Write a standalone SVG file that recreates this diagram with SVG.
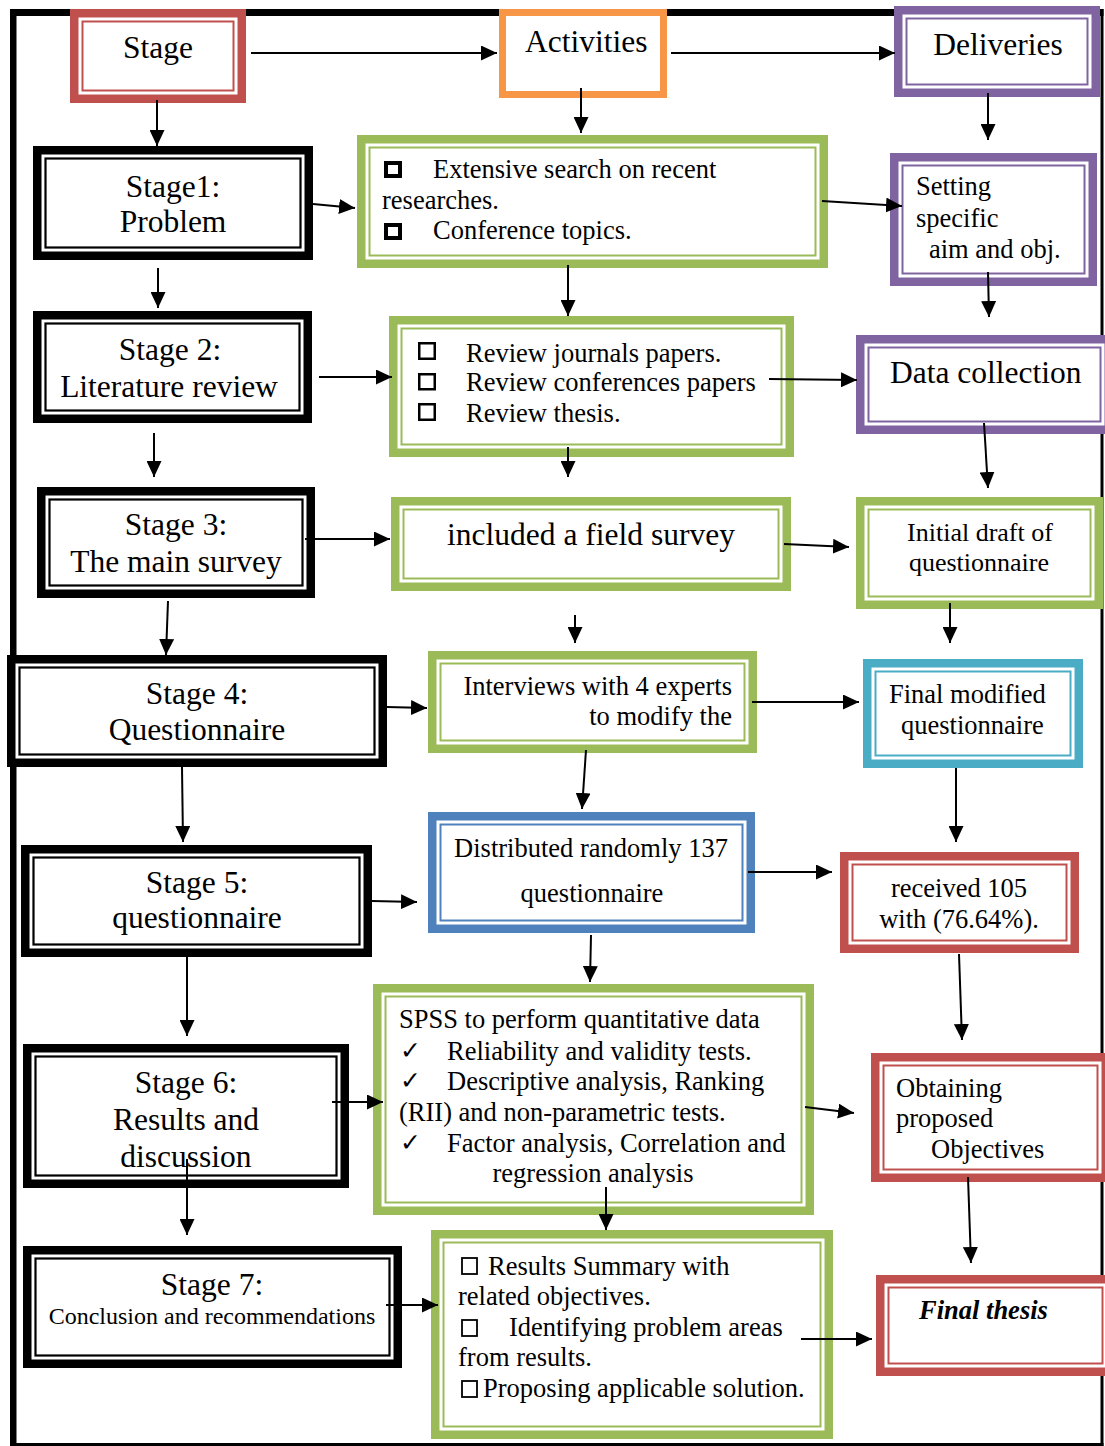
<svg xmlns="http://www.w3.org/2000/svg" width="1105" height="1446" viewBox="0 0 1105 1446">
<style>
text{font-family:"Liberation Serif","Times New Roman",serif;fill:#000}
.s{font-size:31.5px}
.m{font-size:26.5px}
.mid{text-anchor:middle}
.end{text-anchor:end}
.ck{font-family:"DejaVu Sans",sans-serif;font-size:25px}
.bk{fill:#fff;stroke:#000;stroke-width:8.5}
.lk{fill:none;stroke:#000;stroke-width:2.2}
.br{fill:#fff;stroke:#C0504D;stroke-width:8.5}
.lr{fill:none;stroke:#C0504D;stroke-width:2}
.bp{fill:#fff;stroke:#8064A2;stroke-width:8.5}
.lp{fill:none;stroke:#8064A2;stroke-width:2}
.bg{fill:#fff;stroke:#9BBB59;stroke-width:8.5}
.lg{fill:none;stroke:#9BBB59;stroke-width:2}
.bc{fill:#fff;stroke:#4BACC6;stroke-width:8.5}
.lc{fill:none;stroke:#4BACC6;stroke-width:2}
.bb{fill:#fff;stroke:#4F81BD;stroke-width:8.5}
.lb{fill:none;stroke:#4F81BD;stroke-width:2}
.sq{fill:none;stroke:#000}
.cn line{stroke:#000;stroke-width:2;marker-end:url(#ah)}
</style>
<defs>
<marker id="ah" viewBox="0 0 16 15" refX="16" refY="7.5" markerWidth="16" markerHeight="15" markerUnits="userSpaceOnUse" orient="auto">
<path d="M0,0 L16,7.5 L0,15 z" fill="#000"/>
</marker>
</defs>
<rect width="1105" height="1446" fill="#fff"/>
<g id="frame" fill="#000">
<rect x="10" y="9" width="1093.5" height="7"/>
<rect x="10" y="9" width="6.5" height="1437"/>
<rect x="1100.5" y="9" width="3" height="1437"/>
<rect x="10" y="1443" width="1093.5" height="3"/>
</g>
<g id="stage-head"><rect class="br" x="74.25" y="13.25" width="167.5" height="85.5"/><rect class="lr" x="82.5" y="21.5" width="151" height="69"/><text class="s mid" x="158" y="58">Stage</text></g>
<g id="activities-head"><rect x="502.5" y="12.5" width="161" height="82" fill="#fff" stroke="#F79646" stroke-width="7"/><text class="s" x="525" y="52">Activities</text></g>
<g id="deliveries-head"><rect class="bp" x="898.25" y="10.25" width="197.5" height="82.5"/><rect class="lp" x="906.5" y="18.5" width="181" height="66"/><text class="s mid" x="998" y="55">Deliveries</text></g>

<g id="stage1"><rect class="bk" x="37.25" y="150.25" width="271.5" height="105.5"/><rect class="lk" x="45.5" y="158.5" width="255" height="89"/><text class="s mid" x="173" y="197">Stage1:</text><text class="s mid" x="173" y="232">Problem</text></g>
<g id="act1"><rect class="bg" x="361.25" y="139.25" width="462.5" height="124.5"/><rect class="lg" x="369.5" y="147.5" width="446" height="108"/>
<rect class="sq" stroke-width="4" x="386" y="163" width="14" height="13"/><rect class="sq" stroke-width="4" x="386" y="225" width="14" height="13"/>
<text class="m" x="433" y="178">Extensive search on recent</text><text class="m" x="382" y="209">researches.</text><text class="m" x="433" y="239">Conference topics.</text></g>
<g id="del1"><rect class="bp" x="894.25" y="157.25" width="198.5" height="124.5"/><rect class="lp" x="902.5" y="165.5" width="182" height="108"/><text class="m" x="916" y="195">Setting</text><text class="m" x="916" y="227">specific</text><text class="m" x="929" y="258">aim and obj.</text></g>

<g id="stage2"><rect class="bk" x="37.25" y="315.25" width="270.5" height="103.5"/><rect class="lk" x="45.5" y="323.5" width="254" height="87"/><text class="s mid" x="170" y="360">Stage 2:</text><text class="s mid" x="169" y="397">Literature review</text></g>
<g id="act2"><rect class="bg" x="393.25" y="320.25" width="396.5" height="132.5"/><rect class="lg" x="401.5" y="328.5" width="380" height="116"/>
<rect class="sq" stroke-width="2.5" x="419.25" y="343.25" width="15.5" height="15.5"/><rect class="sq" stroke-width="2.5" x="419.25" y="374.25" width="15.5" height="15"/><rect class="sq" stroke-width="2.5" x="419.25" y="404.25" width="15.5" height="15.5"/>
<text class="m" x="466" y="362">Review journals papers.</text><text class="m" x="466" y="391">Review conferences papers</text><text class="m" x="466" y="422">Review thesis.</text></g>
<g id="del2"><rect class="bp" x="860.25" y="339.25" width="248.5" height="90.5"/><rect class="lp" x="868.5" y="347.5" width="232" height="74"/><text class="s" x="890" y="383">Data collection</text></g>

<g id="stage3"><rect class="bk" x="41.25" y="491.25" width="269.5" height="102.5"/><rect class="lk" x="49.5" y="499.5" width="253" height="86"/><text class="s mid" x="176" y="535">Stage 3:</text><text class="s mid" x="176" y="572">The main survey</text></g>
<g id="act3"><rect class="bg" x="395.25" y="501.25" width="391.5" height="85.5"/><rect class="lg" x="403.5" y="509.5" width="375" height="69"/><text class="s mid" x="591" y="545">included a field survey</text></g>
<g id="del3"><rect class="bg" x="860.25" y="501.25" width="238.5" height="103.5"/><rect class="lg" x="868.5" y="509.5" width="222" height="87"/><text class="mid" font-size="26" x="980" y="541">Initial draft of</text><text class="mid" font-size="26" x="979" y="571">questionnaire</text></g>

<g id="stage4"><rect class="bk" x="11.25" y="659.25" width="371.5" height="103.5"/><rect class="lk" x="19.5" y="667.5" width="355" height="87"/><text class="s mid" x="197" y="704">Stage 4:</text><text class="s mid" x="197" y="740">Questionnaire</text></g>
<g id="act4"><rect class="bg" x="432.25" y="655.25" width="320.5" height="93.5"/><rect class="lg" x="440.5" y="663.5" width="304" height="77"/><text class="m end" x="732" y="695">Interviews with 4 experts</text><text class="m end" x="732" y="725">to modify the</text></g>
<g id="del4"><rect class="bc" x="867.25" y="663.25" width="211.5" height="100.5"/><rect class="lc" x="875.5" y="671.5" width="195" height="84"/><text class="m" x="889" y="703">Final modified</text><text class="m" x="901" y="734">questionnaire</text></g>

<g id="stage5"><rect class="bk" x="25.25" y="849.25" width="342.5" height="103.5"/><rect class="lk" x="33.5" y="857.5" width="326" height="87"/><text class="s mid" x="197" y="893">Stage 5:</text><text class="s mid" x="197" y="928">questionnaire</text></g>
<g id="act5"><rect class="bb" x="432.25" y="816.25" width="318.5" height="112.5"/><rect class="lb" x="440.5" y="824.5" width="302" height="96"/><text class="m mid" x="591" y="857">Distributed randomly 137</text><text class="m mid" x="592" y="902">questionnaire</text></g>
<g id="del5"><rect class="br" x="844.25" y="856.25" width="230.5" height="92.5"/><rect class="lr" x="852.5" y="864.5" width="214" height="76"/><text class="m mid" x="959" y="897">received 105</text><text class="m mid" x="959" y="928">with (76.64%).</text></g>

<g id="stage6"><rect class="bk" x="27.25" y="1048.25" width="317.5" height="135.5"/><rect class="lk" x="35.5" y="1056.5" width="301" height="119"/><text class="s mid" x="186" y="1093">Stage 6:</text><text class="s mid" x="186" y="1130">Results and</text><text class="s mid" x="186" y="1167">discussion</text></g>
<g id="act6"><rect class="bg" x="377.25" y="988.25" width="432.5" height="222.5"/><rect class="lg" x="385.5" y="996.5" width="416" height="206"/>
<text class="m" x="399" y="1028">SPSS to perform quantitative data</text>
<text class="ck" x="400" y="1059">✓</text><text class="m" x="447" y="1060">Reliability and validity tests.</text>
<text class="ck" x="400" y="1089">✓</text><text class="m" x="447" y="1090">Descriptive analysis, Ranking</text>
<text class="m" x="399" y="1121">(RII) and non-parametric tests.</text>
<text class="ck" x="400" y="1151">✓</text><text class="m" x="447" y="1152">Factor analysis, Correlation and</text>
<text class="m mid" x="593" y="1182">regression analysis</text></g>
<g id="del6"><rect class="br" x="875.25" y="1057.25" width="230.5" height="120.5"/><rect class="lr" x="883.5" y="1065.5" width="214" height="104"/><text class="m" x="896" y="1097">Obtaining</text><text class="m" x="896" y="1127">proposed</text><text class="m" x="931" y="1158">Objectives</text></g>

<g id="stage7"><rect class="bk" x="27.25" y="1250.25" width="370.5" height="113.5"/><rect class="lk" x="35.5" y="1258.5" width="354" height="97"/><text class="s mid" x="212" y="1295">Stage 7:</text><text class="mid" font-size="24" x="212" y="1324">Conclusion and recommendations</text></g>
<g id="act7"><rect class="bg" x="435.25" y="1234.25" width="393.5" height="200.5"/><rect class="lg" x="443.5" y="1242.5" width="377" height="184"/>
<rect class="sq" stroke-width="1.8" x="462" y="1258" width="15" height="16"/><text class="m" x="488" y="1275">Results Summary with</text>
<text class="m" x="458" y="1305">related objectives.</text>
<rect class="sq" stroke-width="1.8" x="462" y="1320" width="15" height="16"/><text class="m" x="509" y="1336">Identifying problem areas</text>
<text class="m" x="458" y="1366">from results.</text>
<rect class="sq" stroke-width="1.8" x="462" y="1381" width="15" height="16"/><text class="m" x="483" y="1397">Proposing applicable solution.</text></g>
<g id="del7"><rect class="br" x="880.25" y="1279.25" width="230.5" height="92.5"/><rect class="lr" x="888.5" y="1287.5" width="214" height="76"/><text class="m" font-weight="bold" font-style="italic" x="919" y="1319">Final thesis</text></g>

<g id="connectors" class="cn">
<line x1="251" y1="53" x2="497" y2="53"/>
<line x1="671" y1="53" x2="895" y2="53"/>
<line x1="157" y1="100" x2="157" y2="146"/>
<line x1="581" y1="88" x2="581" y2="133"/>
<line x1="988" y1="93" x2="988" y2="140"/>
<line x1="313" y1="204" x2="355" y2="208"/>
<line x1="822" y1="201" x2="902" y2="206"/>
<line x1="568" y1="265" x2="568" y2="316"/>
<line x1="988" y1="272" x2="989" y2="317"/>
<line x1="158" y1="268" x2="158" y2="308"/>
<line x1="319" y1="377" x2="392" y2="377"/>
<line x1="769" y1="379" x2="857" y2="380"/>
<line x1="154" y1="433" x2="154" y2="477"/>
<line x1="568" y1="447" x2="568" y2="477"/>
<line x1="984" y1="423" x2="988" y2="488"/>
<line x1="305" y1="539" x2="390" y2="539"/>
<line x1="784" y1="544" x2="849" y2="547"/>
<line x1="168" y1="601" x2="166" y2="655"/>
<line x1="575" y1="615" x2="575" y2="643"/>
<line x1="950" y1="603" x2="950" y2="643"/>
<line x1="387" y1="707" x2="427" y2="708"/>
<line x1="752" y1="702" x2="859" y2="702"/>
<line x1="586" y1="750" x2="582" y2="809"/>
<line x1="956" y1="768" x2="956" y2="842"/>
<line x1="182" y1="767" x2="183" y2="842"/>
<line x1="372" y1="901" x2="417" y2="902"/>
<line x1="748" y1="872" x2="832" y2="872"/>
<line x1="591" y1="935" x2="590" y2="982"/>
<line x1="959" y1="954" x2="962" y2="1040"/>
<line x1="187" y1="957" x2="187" y2="1036"/>
<line x1="332" y1="1102" x2="383" y2="1102"/>
<line x1="805" y1="1107" x2="854" y2="1113"/>
<line x1="606" y1="1187" x2="606" y2="1230"/>
<line x1="968" y1="1177" x2="971" y2="1263"/>
<line x1="187" y1="1159" x2="187" y2="1235"/>
<line x1="386" y1="1305" x2="438" y2="1305"/>
<line x1="801" y1="1339" x2="872" y2="1339"/>
</g>
</svg>
